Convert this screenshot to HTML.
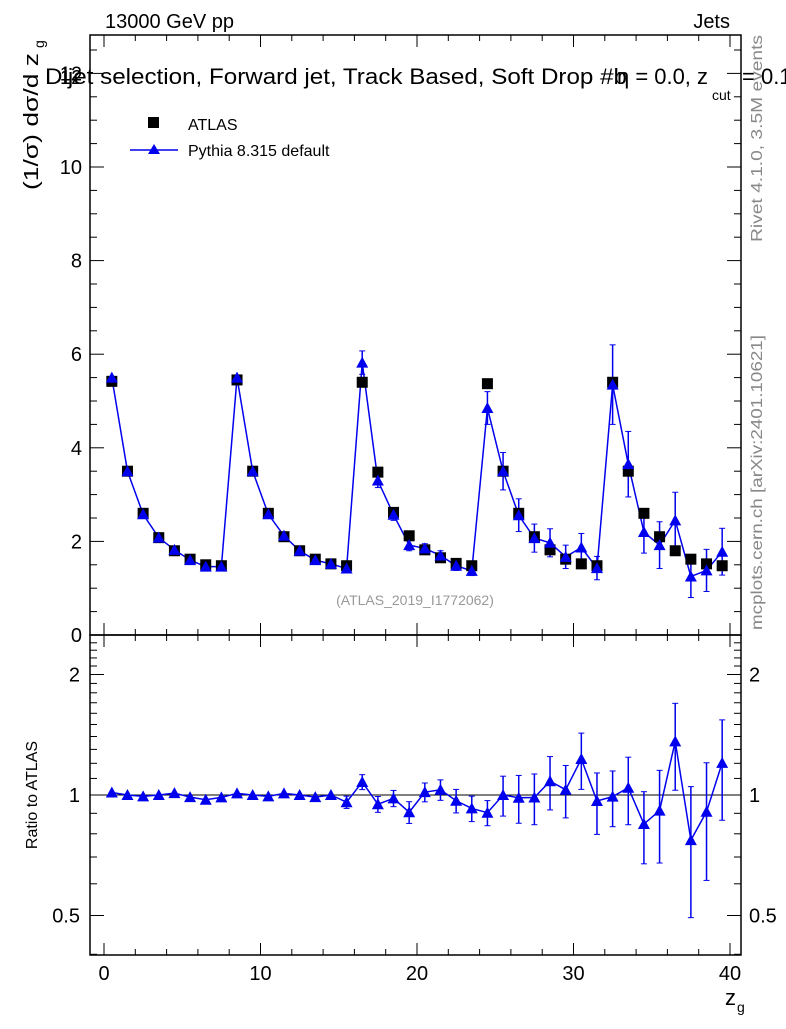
<!DOCTYPE html>
<html><head><meta charset="utf-8"><style>
body{margin:0;background:#fff;}
svg text{font-family:"Liberation Sans",sans-serif;}
</style></head><body>
<svg id="c" width="786" height="1024" xmlns="http://www.w3.org/2000/svg"></svg>
<script>
const xCenters=[0.5,1.5,2.5,3.5,4.5,5.5,6.5,7.5,8.5,9.5,10.5,11.5,12.5,13.5,14.5,15.5,16.5,17.5,18.5,19.5,20.5,21.5,22.5,23.5,24.5,25.5,26.5,27.5,28.5,29.5,30.5,31.5,32.5,33.5,34.5,35.5,36.5,37.5,38.5,39.5];
const atlasVals=[5.42,3.5,2.6,2.08,1.8,1.62,1.5,1.48,5.45,3.5,2.6,2.1,1.8,1.62,1.52,1.48,5.4,3.48,2.62,2.12,1.82,1.65,1.53,1.48,5.37,3.5,2.6,2.1,1.82,1.62,1.52,1.48,5.4,3.5,2.6,2.1,1.8,1.62,1.52,1.48];
const pythiaVals=[5.5,3.5,2.58,2.08,1.82,1.6,1.46,1.46,5.5,3.5,2.58,2.12,1.8,1.6,1.52,1.42,5.82,3.3,2.57,1.92,1.85,1.7,1.48,1.37,4.85,3.5,2.56,2.07,1.97,1.67,1.87,1.43,5.35,3.65,2.2,1.92,2.45,1.25,1.38,1.78];
const pythiaErrs=[0.05,0.04,0.03,0.03,0.03,0.03,0.03,0.03,0.06,0.05,0.04,0.04,0.04,0.04,0.04,0.05,0.25,0.15,0.12,0.12,0.1,0.1,0.1,0.1,0.35,0.4,0.35,0.3,0.3,0.25,0.3,0.25,0.85,0.7,0.45,0.5,0.6,0.45,0.45,0.5];
const yTicks=[0,2,4,6,8,10,12];
const xTicks=[0,10,20,30,40];
const rTicks=[0.5,1,2];

const svg=document.getElementById('c');
const NS='http://www.w3.org/2000/svg';
function el(tag,attrs,parent){const e=document.createElementNS(NS,tag);for(const k in attrs)e.setAttribute(k,attrs[k]);(parent||svg).appendChild(e);return e;}
const L=90,R=741,T1=35,B1=635,T2=635,B2=955;
const X=v=>104+(v)*(730-104)/40;
const Y=v=>635-v*46.8;
const RY=v=>795-Math.log2(v)*120.5;
let f1=el('rect',{x:L,y:T1,width:R-L,height:B1-T1,fill:'none',stroke:'#000','stroke-width':1.5});

let f2=el('rect',{x:L,y:T2,width:R-L,height:B2-T2,fill:'none',stroke:'#000','stroke-width':1.5});

for(let v=0;v<=40;v+=2){const major=v%10==0;const len=major?12:6;
 [[B1,-1],[T1,1],[B2,-1],[T2,1]].forEach(([y,d])=>el('line',{x1:X(v),x2:X(v),y1:y,y2:y+d*len,stroke:'#000'}));}
xTicks.forEach(v=>{const t=el('text',{x:X(v),y:980,'font-size':20,'text-anchor':'middle'});t.textContent=v;
 });
for(let v=0;v<=12.8;v+=0.5){const major=Math.abs(v%2)<1e-9;const len=major?14:7;
 el('line',{x1:L,x2:L+len,y1:Y(v),y2:Y(v),stroke:'#000'});el('line',{x1:R,x2:R-len,y1:Y(v),y2:Y(v),stroke:'#000'});}
yTicks.forEach(v=>{const t=el('text',{x:82,y:Y(v)+7,'font-size':20,'text-anchor':'end'});t.textContent=v;
 });
[0.4,0.5,0.6,0.7,0.8,0.9,1,2].forEach(v=>{const major=rTicks.includes(v);const len=major?14:7;
 el('line',{x1:L,x2:L+len,y1:RY(v),y2:RY(v),stroke:'#000'});el('line',{x1:R,x2:R-len,y1:RY(v),y2:RY(v),stroke:'#000'});});
for(let v=1.1;v<2.5;v+=0.1){if(Math.abs(v-2)<1e-6)continue;el('line',{x1:L,x2:L+7,y1:RY(v),y2:RY(v),stroke:'#000'});el('line',{x1:R,x2:R-7,y1:RY(v),y2:RY(v),stroke:'#000'});}
rTicks.forEach(v=>{const lab=String(v);
 let t=el('text',{x:80,y:RY(v)+7,'font-size':20,'text-anchor':'end'});t.textContent=lab;
 
 t=el('text',{x:749,y:RY(v)+7,'font-size':20});t.textContent=lab;
 });
el('line',{x1:L,x2:R,y1:RY(1),y2:RY(1),stroke:'#000'});
function txt(s,a,name){const t=el('text',a);t.textContent=s;return t;}
txt('13000 GeV pp',{x:105,y:28,'font-size':20},'beam-label');
txt('Jets',{x:730,y:28,'font-size':20,'text-anchor':'end'},'process-label');
txt('Dijet selection, Forward jet, Track Based, Soft Drop #b',{x:45,y:84,'font-size':22,textLength:582,lengthAdjust:'spacingAndGlyphs'},'plot-title');
txt('η = 0.0, z',{x:617,y:84,'font-size':22,textLength:91,lengthAdjust:'spacingAndGlyphs'},'title-beta');
txt('cut',{x:712,y:100,'font-size':14},'title-sub');
txt('= 0.1',{x:742,y:84,'font-size':22},'title-end');
txt('12',{x:60,y:84,'font-size':20},'y-tick-12');
let yl=txt('(1/σ) dσ/d z',{x:0,y:0,'font-size':20,textLength:137,lengthAdjust:'spacingAndGlyphs'},'y-axis-title');yl.setAttribute('transform','translate(38,190) rotate(-90)');
let ys=txt('g',{x:0,y:0,'font-size':14},'y-axis-sub');ys.setAttribute('transform','translate(44,48) rotate(-90)');
let rl=txt('Ratio to ATLAS',{x:0,y:0,'font-size':16,'text-anchor':'middle'},'ratio-axis-title');rl.setAttribute('transform','translate(37,795) rotate(-90)');
txt('z',{x:725,y:1005,'font-size':22},'x-axis-title');txt('g',{x:737,y:1012,'font-size':14},'x-axis-sub');
txt('(ATLAS_2019_I1772062)',{x:415,y:605,'font-size':14,'text-anchor':'middle',fill:'#999'},'analysis-label');
let rv=txt('Rivet 4.1.0,  3.5M events',{x:0,y:0,'font-size':16,fill:'#888',textLength:207,lengthAdjust:'spacingAndGlyphs'},'rivet-label');rv.setAttribute('transform','translate(762,242) rotate(-90)');
let mc=txt('mcplots.cern.ch [arXiv:2401.10621]',{x:0,y:0,'font-size':16,fill:'#888',textLength:295,lengthAdjust:'spacingAndGlyphs'},'mcplots-label');mc.setAttribute('transform','translate(762,630) rotate(-90)');
let lr=el('rect',{x:148,y:117,width:11,height:11,fill:'#000'});
txt('ATLAS',{x:188,y:130,'font-size':16},'legend-atlas');
el('line',{x1:130,x2:178,y1:150,y2:150,stroke:'#0000ee','stroke-width':1.5});
let lt=el('polygon',{points:'154,144 148,154 160,154',fill:'#0000ee'});
txt('Pythia 8.315 default',{x:188,y:156,'font-size':16},'legend-pythia');
const blue='#0000ee';
function tri(cx,cy,name){const p=el('polygon',{points:`${cx},${cy-6} ${cx-6},${cy+5} ${cx+6},${cy+5}`,fill:blue});}
let pts=xCenters.map((x,i)=>X(x)+','+Y(pythiaVals[i])).join(' ');
let pl=el('polyline',{points:pts,fill:'none',stroke:blue,'stroke-width':1.5});
xCenters.forEach((x,i)=>{const e=pythiaErrs[i];
 el('line',{x1:X(x),x2:X(x),y1:Y(pythiaVals[i]+e),y2:Y(pythiaVals[i]-e),stroke:blue,'stroke-width':1.5});
 if(e>0.08){el('line',{x1:X(x)-3,x2:X(x)+3,y1:Y(pythiaVals[i]+e),y2:Y(pythiaVals[i]+e),stroke:blue});el('line',{x1:X(x)-3,x2:X(x)+3,y1:Y(pythiaVals[i]-e),y2:Y(pythiaVals[i]-e),stroke:blue});}
});
xCenters.forEach((x,i)=>{const r=el('rect',{x:X(x)-5.5,y:Y(atlasVals[i])-5.5,width:11,height:11,fill:'#000'});
 });
xCenters.forEach((x,i)=>tri(X(x),Y(pythiaVals[i]),'pythia-point'));
const ratios=pythiaVals.map((v,i)=>v/atlasVals[i]);
let rp=el('polyline',{points:xCenters.map((x,i)=>X(x)+','+RY(ratios[i])).join(' '),fill:'none',stroke:blue,'stroke-width':1.5});

xCenters.forEach((x,i)=>{const re=pythiaErrs[i]/atlasVals[i];const hi=ratios[i]+re,lo=Math.max(ratios[i]-re,0.41);
 el('line',{x1:X(x),x2:X(x),y1:RY(hi),y2:RY(lo),stroke:blue,'stroke-width':1.5});
 if(re>0.03){el('line',{x1:X(x)-3,x2:X(x)+3,y1:RY(hi),y2:RY(hi),stroke:blue});el('line',{x1:X(x)-3,x2:X(x)+3,y1:RY(lo),y2:RY(lo),stroke:blue});}
 tri(X(x),RY(ratios[i]),'ratio-point');});
</script>
</body></html>
